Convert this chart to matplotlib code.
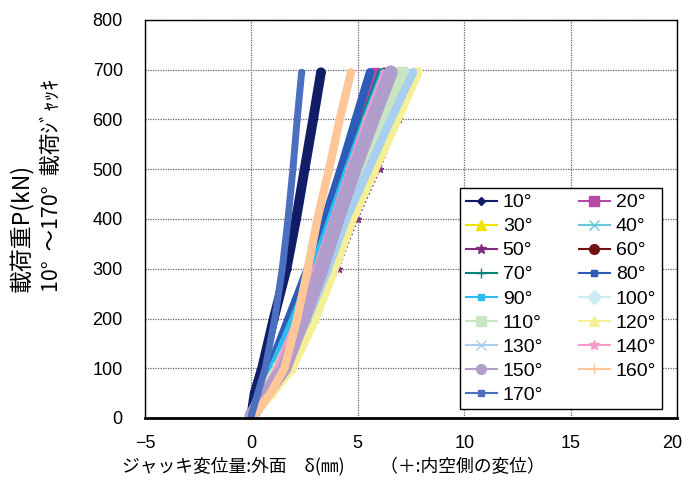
import matplotlib
matplotlib.use("Agg")
import matplotlib.pyplot as plt
import matplotlib.transforms as mtransforms
from matplotlib.lines import Line2D

# ---- data ----
load_kn = [5, 50, 100, 200, 300, 400, 500, 600, 695]

labels = ["10°", "20°", "30°", "40°", "50°", "60°", "70°", "80°", "90°",
          "100°", "110°", "120°", "130°", "140°", "150°", "160°", "170°"]

d10  = [0.0, 0.15, 0.50, 1.05, 1.65, 2.10, 2.50, 2.90, 3.27]
d20  = [0.0, 0.40, 1.00, 1.90, 2.78, 3.55, 4.30, 5.05, 5.81]
d30  = [0.0, 0.70, 1.45, 2.45, 3.30, 4.10, 4.90, 5.85, 6.85]
d40  = [0.0, 0.60, 1.45, 2.55, 3.55, 4.40, 5.40, 6.40, 7.40]
d50  = [0.0, 0.80, 1.75, 3.05, 4.10, 5.00, 6.05, 6.95, 7.83]
d60  = [0.0, 0.45, 1.05, 2.00, 2.90, 3.70, 4.50, 5.35, 6.23]
d70  = [0.0, 0.40, 1.00, 1.95, 2.85, 3.65, 4.45, 5.25, 6.05]
d80  = [0.0, 0.35, 0.85, 1.75, 2.65, 3.45, 4.20, 4.90, 5.57]
d90  = [0.0, 0.35, 0.95, 1.95, 2.88, 3.70, 4.50, 5.35, 6.20]
d100 = [0.0, 0.60, 1.35, 2.45, 3.45, 4.30, 5.25, 6.20, 7.20]
d110 = [0.0, 0.50, 1.25, 2.35, 3.35, 4.20, 5.10, 6.10, 7.10]
d120 = [0.0, 0.90, 1.85, 2.95, 3.85, 4.70, 5.75, 6.80, 7.78]
d130 = [0.0, 0.70, 1.55, 2.65, 3.60, 4.45, 5.50, 6.55, 7.60]
d140 = [0.0, 0.50, 1.15, 2.10, 2.98, 3.78, 4.55, 5.35, 6.20]
d150 = [0.0, 0.70, 1.55, 2.45, 3.30, 4.05, 4.85, 5.70, 6.55]
d160 = [0.1, 0.90, 1.55, 2.15, 2.65, 3.10, 3.65, 4.15, 4.68]
d170 = [0.0, 0.30, 0.65, 1.10, 1.45, 1.72, 1.95, 2.15, 2.36]

series = [d10, d20, d30, d40, d50, d60, d70, d80, d90,
          d100, d110, d120, d130, d140, d150, d160, d170]

x_ticks = [-5, 0, 5, 10, 15, 20]
y_ticks = [0, 100, 200, 300, 400, 500, 600, 700, 800]

# ---- styles ----
colors = ["#131c66", "#b24aa6", "#f2e200", "#6cc6da", "#7e2c80", "#721313",
          "#00827c", "#2c5cb8", "#2cbdf0", "#cdebf3", "#c9e5c2", "#f5ef96",
          "#a9cff0", "#f59ac9", "#b09dcc", "#ffc797", "#4a70bf"]
markers = ["D", "s", "^", "x", "*", "o", "+", "s", "s",
           "D", "s", "^", "x", "*", "o", "+", "s"]
msizes = [4, 6, 6, 5, 5, 6, 6, 2.5, 3, 5, 7, 6, 5, 5, 7, 6, 2.5]
lws = [7, 4, 6, 5, 1.2, 3, 4, 6, 5, 6, 8, 8, 6, 3, 10, 6, 5]

plt.rcParams['font.family'] = ['Liberation Sans', 'Noto Sans CJK JP', 'DejaVu Sans']

fig = plt.figure(figsize=(6.85, 4.86), dpi=100)
ax = fig.add_axes([145/685, 1-418/486, 532/685, 398/486])

for d, c, m, ms, lw, lab in zip(series, colors, markers, msizes, lws, labels):
    ls = ':' if lab == "50°" else '-'
    ax.plot(d, load_kn, color=c, lw=lw, ls=ls, marker=m, ms=ms,
            markeredgecolor=c, solid_capstyle='round')

ax.set_xlim(-5, 20)
ax.set_ylim(0, 800)
ax.set_xticks(x_ticks)
ax.set_yticks(y_ticks)
ax.tick_params(axis='both', length=0, labelsize=13)
ax.tick_params(axis='x', pad=12)
ax.tick_params(axis='y', pad=16)
ax.grid(True, color='#666666', linestyle=(0, (1, 1)), linewidth=0.9)
ax.set_axisbelow(True)
for s in ax.spines.values():
    s.set_color('black')
    s.set_linewidth(1.0)
ax.spines['bottom'].set_linewidth(2.0)

# shift the last x tick label a little left so it stays inside the figure
fig.canvas.draw()
last = ax.get_xticklabels()[-1]
last.set_transform(last.get_transform() +
                   mtransforms.ScaledTranslation(-5/100, 0, fig.dpi_scale_trans))

# legend (row-wise order like the reference)
handles = [Line2D([], [], color=c, marker=m, ms=(7 if ms >= 5 else 4), lw=1.5,
                  markeredgecolor=c)
           for c, m, ms in zip(colors, markers, msizes)]
order = list(range(0, 17, 2)) + list(range(1, 17, 2))
leg = ax.legend([handles[i] for i in order], [labels[i] for i in order],
                ncol=2, loc='upper left',
                bbox_to_anchor=(0.592, 0.02, 0.38, 0.558), mode='expand',
                borderaxespad=0, fontsize=14, frameon=True, fancybox=False,
                edgecolor='black', framealpha=1, labelspacing=0.33,
                handlelength=1.6, handletextpad=0.3, columnspacing=1.0,
                borderpad=0.3)
leg.get_frame().set_linewidth(1.0)

cjk = ['Noto Sans CJK JP', 'DejaVu Sans']
fig.text(122/685, 1-466/486, "ジャッキ変位量:外面　δ(㎜)　　（＋:内空側の変位）",
         family=cjk, fontsize=12.8, ha='left', va='center')
fig.text(21/685, 1-292/486, "載荷重P(kN)", family=cjk, fontsize=16.5,
         rotation=90, ha='center', va='bottom')
fig.text(52/685, 1-292/486, "10°  ～170°  載荷ｼﾞｬｯｷ", family=cjk, fontsize=15.5,
         rotation=90, ha='center', va='bottom')

fig.savefig("out.png", dpi=100)
